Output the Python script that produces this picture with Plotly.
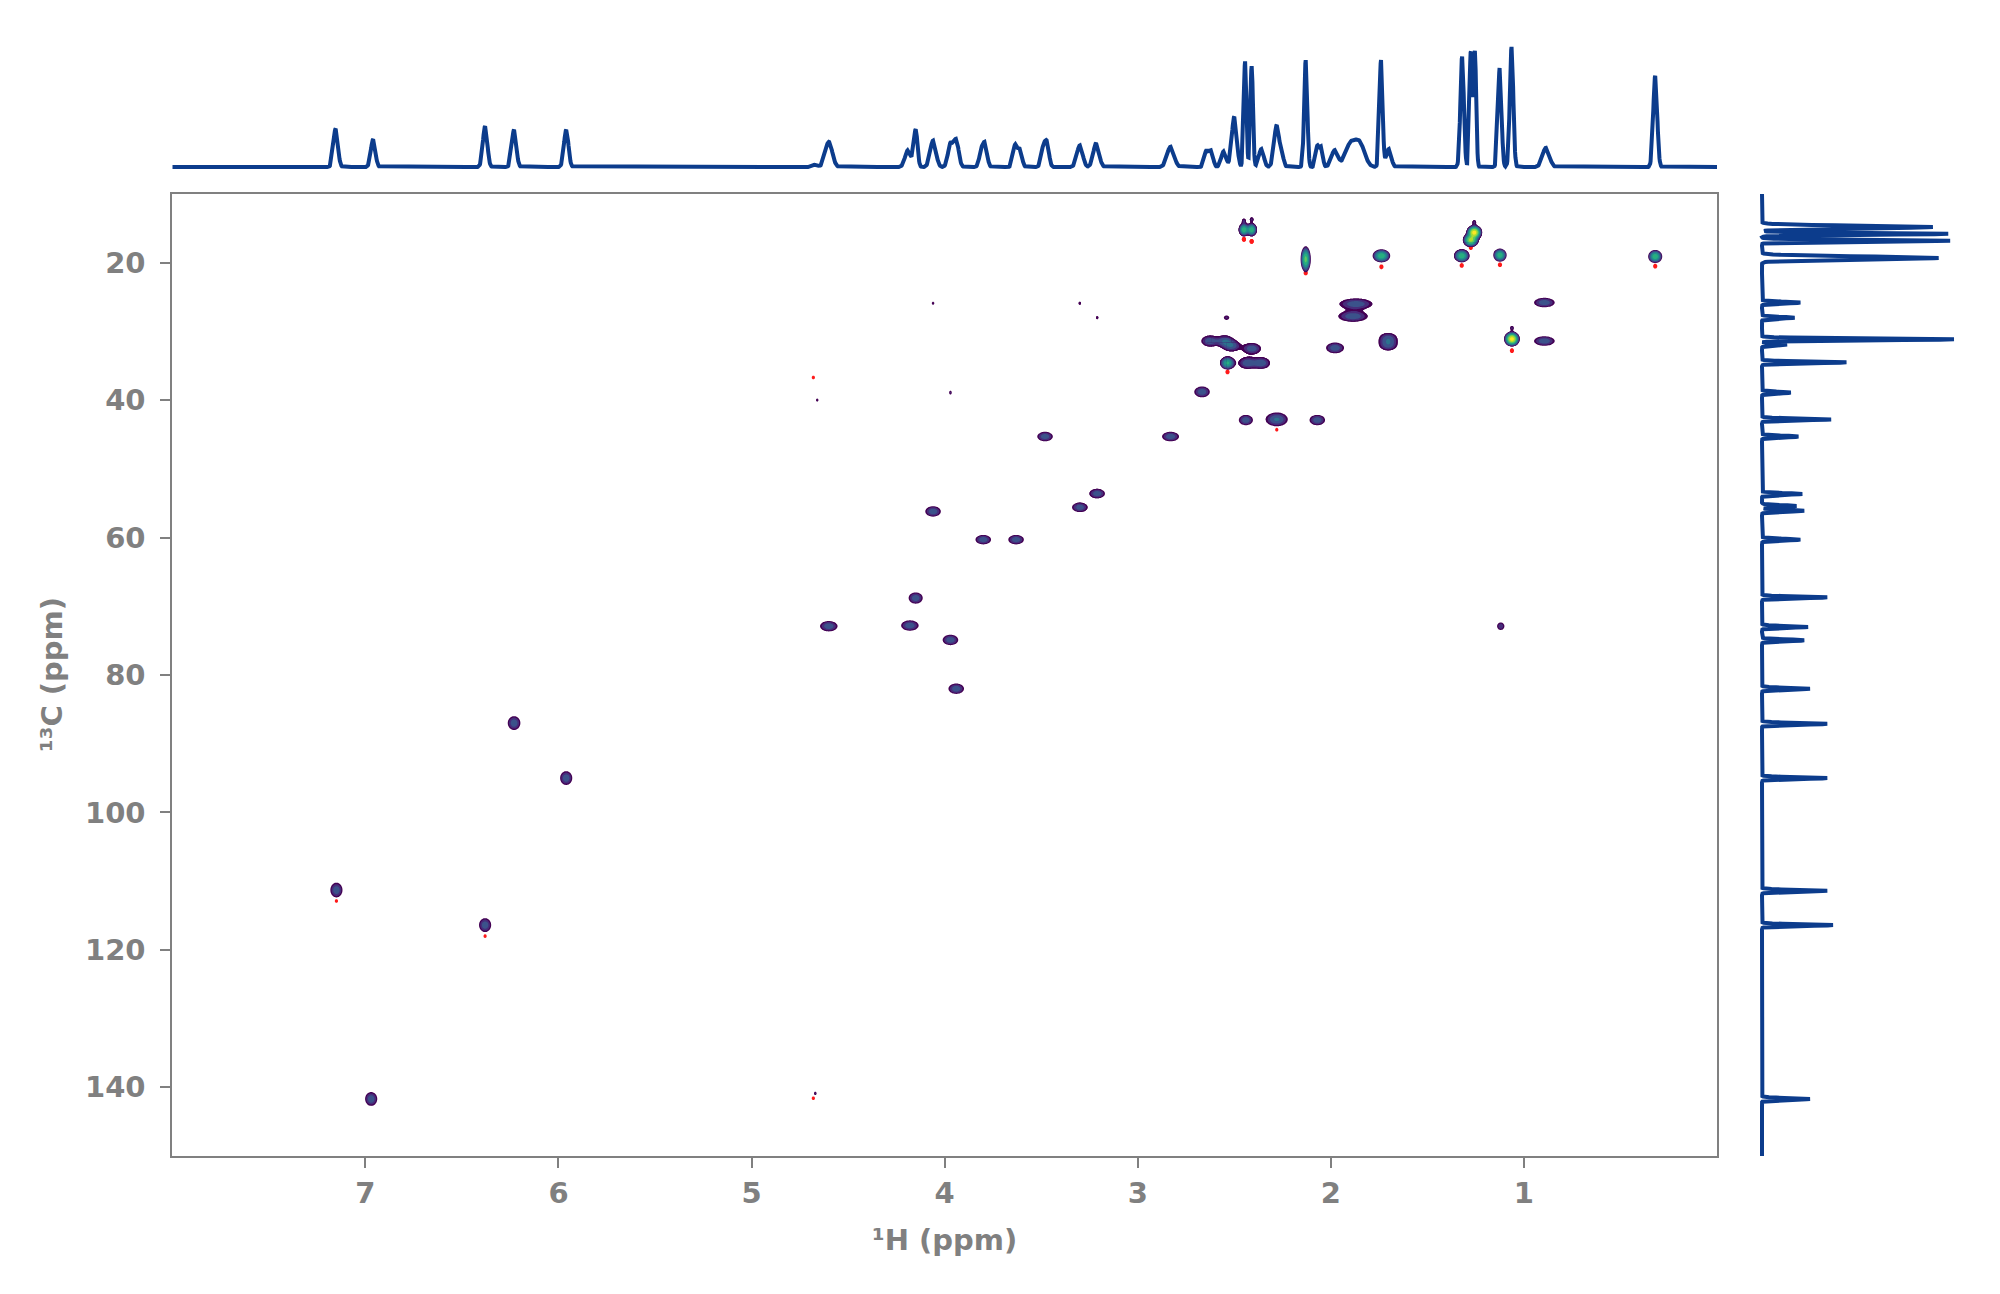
import numpy as np
import plotly.graph_objects as go

# ---- 1H projection (top trace): shift (ppm), height, width
h1_shift = [7.154, 6.96, 6.38, 6.23, 5.96, 4.67, 4.60, 4.19, 4.15, 4.06,
            3.97, 3.94, 3.81, 3.79, 3.635, 3.61, 3.49, 3.47, 3.30, 3.215,
            2.83, 2.645, 2.62, 2.555, 2.50, 2.444, 2.41, 2.36, 2.28, 2.25,
            2.13, 2.07, 2.05, 1.98, 1.90, 1.85, 1.74, 1.70, 1.32, 1.275,
            1.254, 1.125, 1.064, 0.886, 0.32]
h1_height = [0.32, 0.23, 0.34, 0.31, 0.31, 0.02, 0.21, 0.14, 0.31, 0.22,
             0.19, 0.22, 0.13, 0.18, 0.18, 0.14, 0.15, 0.19, 0.18, 0.20,
             0.17, 0.13, 0.13, 0.13, 0.42, 0.88, 0.84, 0.15, 0.35, 0.07,
             0.89, 0.17, 0.16, 0.14, 0.18, 0.19, 0.89, 0.15, 0.92, 0.96,
             0.96, 0.83, 1.0, 0.16, 0.76]
h1_width = [0.027, 0.027, 0.027, 0.027, 0.027, 0.03, 0.042, 0.035, 0.022, 0.035,
            0.03, 0.03, 0.025, 0.025, 0.025, 0.025, 0.025, 0.025, 0.035, 0.035,
            0.042, 0.025, 0.025, 0.03, 0.03, 0.016, 0.016, 0.03, 0.032, 0.02,
            0.019, 0.02, 0.02, 0.04, 0.06, 0.06, 0.019, 0.03, 0.021, 0.016,
            0.016, 0.021, 0.021, 0.042, 0.024]

# ---- 13C projection (right trace)
c13_shift = [14.8, 15.8, 16.8, 19.3, 25.8, 28.0, 31.15, 31.9, 34.5, 38.9,
             42.8, 45.3, 53.65, 55.4, 56.1, 60.3, 68.7, 73.0, 74.95, 82.0,
             87.1, 95.0, 111.4, 116.4, 141.7]
c13_height = [0.89, 0.97, 0.98, 0.92, 0.20, 0.17, 1.0, 0.13, 0.44, 0.15,
              0.36, 0.19, 0.21, 0.18, 0.22, 0.20, 0.34, 0.24, 0.22, 0.25,
              0.34, 0.34, 0.34, 0.37, 0.25]
c13_width = [0.45, 0.3, 0.3, 0.5, 0.3, 0.3, 0.3, 0.3, 0.3, 0.3,
             0.3, 0.3, 0.3, 0.3, 0.3, 0.3, 0.3, 0.3, 0.3, 0.3,
             0.3, 0.3, 0.3, 0.3, 0.3]

# ---- HSQC cross peaks (positive): 1H, 13C, amplitude, widths
xp_h = [7.15, 6.97, 6.38, 6.23, 5.96, 4.60, 4.18, 4.15, 4.06, 3.97,
        3.94, 3.80, 3.63, 3.48, 3.30, 3.21, 2.83, 2.667, 2.627, 2.549,
        2.514, 2.409, 2.535, 2.433, 2.359, 2.54, 2.45, 2.41, 2.13, 2.28,
        2.44, 2.07, 1.978, 1.87, 1.885, 1.703, 1.703, 1.738, 1.322, 1.275,
        1.257, 1.124, 1.062, 1.12, 0.894, 0.894, 0.32,
        4.06, 3.97, 3.30, 3.21, 4.66, 4.67, 2.45, 2.41, 1.257, 1.062]
xp_c = [111.3, 141.7, 116.4, 87.0, 95.0, 72.9, 72.8, 68.8, 56.2, 74.9,
        82.0, 60.3, 60.3, 45.3, 55.6, 53.6, 45.3, 38.8, 31.4, 31.4,
        32.1, 32.5, 34.6, 34.6, 34.6, 28.0, 15.2, 15.2, 19.5, 42.8,
        42.9, 42.9, 32.4, 26.0, 27.8, 31.0, 32.0, 19.0, 19.0, 16.7,
        15.6, 18.9, 31.1, 72.9, 25.8, 31.4, 19.1,
        25.9, 38.9, 25.9, 28.0, 40.0, 140.9, 13.9, 13.7, 14.1, 29.5]
xp_amp = [3, 3, 3, 3, 3, 3, 3, 3, 3, 3,
          3, 3, 3, 3, 3, 3, 3, 3, 3, 3,
          3, 3, 8, 3, 3, 1.6, 10, 10, 12, 3.5,
          3, 3, 3, 3, 3, 2.6, 2.6, 10, 10, 18,
          28, 10, 28, 2, 3, 3, 10,
          1.5, 1.6, 1.5, 1.5, 1.5, 1.6, 1.6, 1.6, 1.6, 1.6]
xp_wh = [0.05, 0.05, 0.05, 0.052, 0.05, 0.072, 0.072, 0.058, 0.064, 0.064,
         0.064, 0.064, 0.064, 0.064, 0.064, 0.064, 0.07, 0.064, 0.07, 0.064,
         0.068, 0.074, 0.045, 0.07, 0.07, 0.034, 0.03, 0.03, 0.028, 0.085,
         0.058, 0.064, 0.074, 0.135, 0.12, 0.074, 0.074, 0.05, 0.044, 0.04,
         0.037, 0.038, 0.037, 0.038, 0.085, 0.085, 0.04,
         0.017, 0.017, 0.017, 0.017, 0.017, 0.017, 0.022, 0.022, 0.022, 0.022]
xp_wc = [1.7, 1.6, 1.6, 1.6, 1.6, 1.2, 1.2, 1.3, 1.2, 1.2,
         1.2, 1.1, 1.1, 1.1, 1.1, 1.1, 1.1, 1.25, 1.25, 1.25,
         1.25, 1.25, 1.1, 1.3, 1.3, 0.8, 1.05, 1.05, 2.0, 1.5,
         1.2, 1.2, 1.25, 1.25, 1.25, 1.3, 1.3, 1.05, 1.05, 1.0,
         1.0, 1.05, 1.0, 1.1, 1.1, 1.1, 1.05,
         0.6, 0.7, 0.6, 0.6, 0.6, 0.6, 0.7, 0.7, 0.7, 0.7]

# ---- negative contours (red)
neg_h = [2.45, 2.41, 2.13, 1.738, 1.322, 1.275, 1.124, 1.062, 2.535, 1.87,
         7.15, 6.38, 2.28, 4.68, 4.68, 0.32]
neg_c = [16.6, 16.9, 21.5, 20.6, 20.4, 17.8, 20.3, 32.8, 35.9, 27.1,
         112.9, 118.0, 44.3, 36.7, 141.6, 20.5]
neg_amp = [2, 2, 2, 2, 2, 2, 2, 2, 2, 1.6,
           1.5, 1.5, 1.5, 1.5, 1.5, 2]

grey = "#808080"
blue = "#0c3c8c"
viridis = ["#440154", "#472d7b", "#3b528b", "#2c728e", "#21918c",
           "#28ae80", "#5ec962", "#addc30", "#fde725"]


def gauss(x, x0, w):
    return np.exp(-4 * np.log(2) * ((x - x0) / w) ** 2)


def plane(hh, cc, hs, cs, amps, whs, wcs):
    H, C = np.meshgrid(hh, cc)
    z = np.zeros_like(H)
    for h0, c0, a, wh, wc in zip(hs, cs, amps, whs, wcs):
        z += a * gauss(H, h0, wh) * gauss(C, c0, wc)
    return z


# 1D traces
h_axis = np.linspace(0, 8, 4001)
h_spec = np.zeros_like(h_axis)
for s, a, w in zip(h1_shift, h1_height, h1_width):
    h_spec += a * gauss(h_axis, s, w)

c_axis = np.linspace(10, 150, 2801)
c_spec = np.zeros_like(c_axis)
for s, a, w in zip(c13_shift, c13_height, c13_width):
    c_spec += a * gauss(c_axis, s, w)

fig = go.Figure()

# contour colours: lowest band transparent, then viridis bands
nc = len(viridis)
pos_scale = [[0, "rgba(255,255,255,0)"], [0.5 / nc, "rgba(255,255,255,0)"]]
for k, col in enumerate(viridis):
    pos_scale.append([max((k + 0.5) / nc, 0.5 / nc), col])
    pos_scale.append([min((k + 1.5) / nc, 1.0), col])
neg_scale = [[0, "rgba(255,255,255,0)"], [0.5, "rgba(255,255,255,0)"],
             [0.5, "#ff1a1a"], [1, "#ff1a1a"]]

neg_w = [0.022] * len(neg_h)
neg_wc = [0.7] * len(neg_h)
for h0, c0 in zip(neg_h, neg_c):
    hh = np.arange(h0 - 0.06, h0 + 0.06, 0.003)
    cc = np.arange(c0 - 1.5, c0 + 1.5, 0.08)
    z = plane(hh, cc, neg_h, neg_c, neg_amp, neg_w, neg_wc)
    z = np.round(np.log10(np.maximum(z, 0.01)), 3)
    fig.add_trace(go.Contour(x=hh, y=cc, z=z, autocontour=False,
                             contours=dict(start=0, end=0, size=1, coloring="fill", showlines=False),
                             colorscale=neg_scale, showscale=False, hoverinfo="skip"))

for h0, c0, wh, wc in zip(xp_h, xp_c, xp_wh, xp_wc):
    dh = max(0.11, 1.4 * wh)
    dc = max(3.0, 1.8 * wc)
    hh = np.arange(h0 - dh, h0 + dh, 0.004)
    cc = np.arange(c0 - dc, c0 + dc, 0.1)
    z = plane(hh, cc, xp_h, xp_c, xp_amp, xp_wh, xp_wc)
    z = np.round(np.log10(np.maximum(z, 0.01)), 3)
    fig.add_trace(go.Contour(x=hh, y=cc, z=z, autocontour=False,
                             contours=dict(start=0, end=0.17 * (nc - 1), size=0.17,
                                           coloring="fill", showlines=False),
                             colorscale=pos_scale, showscale=False, hoverinfo="skip"))

fig.add_trace(go.Scatter(x=h_axis, y=h_spec, mode="lines", xaxis="x2", yaxis="y2",
                         line=dict(color=blue, width=4), hoverinfo="skip"))
fig.add_trace(go.Scatter(x=c_spec, y=c_axis, mode="lines", xaxis="x3", yaxis="y3",
                         line=dict(color=blue, width=4), hoverinfo="skip"))

# page has an 8px body margin, so the figure is 1984x1278 and offsets are shifted by 8
W, Hh, off = 1984, 1278, 8


def px(v):
    return (v - off) / W


def py(v):
    return 1 - (v - off) / Hh


tickfont = dict(family="DejaVu Sans", size=29, color=grey, weight="bold")
main_x = [px(172.3), px(1717)]
main_y = [py(1156), py(194)]

fig.update_layout(
    width=W, height=Hh, margin=dict(l=0, r=0, t=0, b=0),
    plot_bgcolor="white", paper_bgcolor="white", showlegend=False,
    xaxis=dict(domain=main_x, range=[8, 0], tickvals=[1, 2, 3, 4, 5, 6, 7],
               ticks="outside", ticklen=10, tickwidth=1.5, tickcolor=grey,
               showline=True, linecolor=grey, linewidth=2, mirror=True,
               showgrid=False, zeroline=False, tickfont=tickfont, anchor="y"),
    yaxis=dict(domain=main_y, range=[150, 10], tickvals=[20, 40, 60, 80, 100, 120, 140],
               ticks="outside", ticklen=10, tickwidth=1.5, tickcolor=grey,
               showline=True, linecolor=grey, linewidth=2, mirror=True,
               showgrid=False, zeroline=False, tickfont=tickfont, anchor="x",
               ticklabelstandoff=9),
    xaxis2=dict(domain=main_x, range=[8, 0], visible=False, anchor="y2"),
    yaxis2=dict(domain=[py(175), py(30)], range=[-0.066, 1.141],
                visible=False, anchor="x2"),
    xaxis3=dict(domain=[px(1750), px(1990)], range=[-0.0625, 1.1875], visible=False, anchor="y3"),
    yaxis3=dict(domain=main_y, range=[150, 10], visible=False, anchor="x3"),
)

fig.add_annotation(text="¹H (ppm)", x=px(944.7), y=py(1240), xref="paper", yref="paper",
                   showarrow=False, xanchor="center", yanchor="middle", font=tickfont)
fig.add_annotation(text="¹³C (ppm)", x=px(52), y=py(675), xref="paper", yref="paper",
                   showarrow=False, xanchor="center", yanchor="middle", textangle=-90, font=tickfont)

fig.write_html("out.html")
